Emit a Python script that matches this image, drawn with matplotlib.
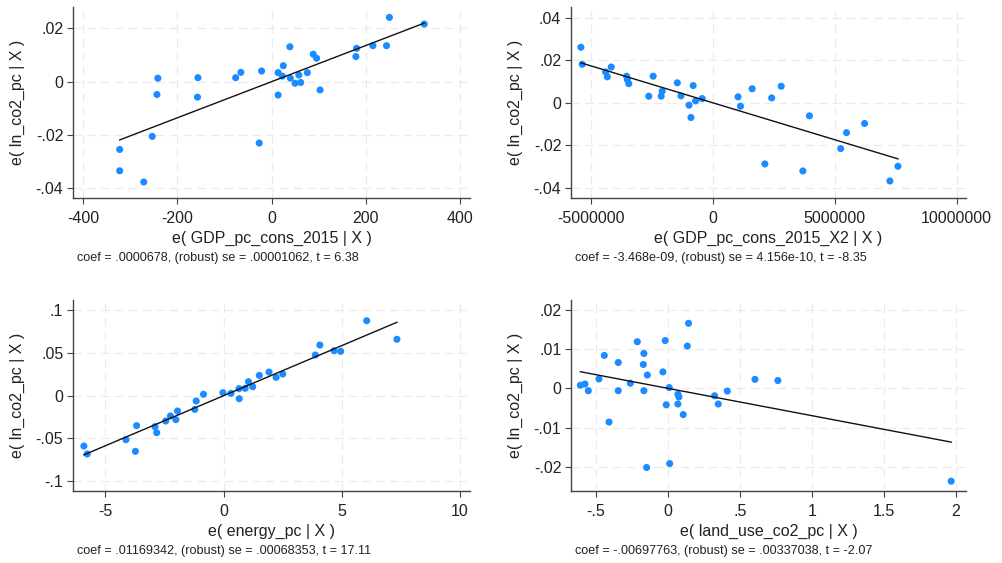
import numpy as np
import matplotlib.pyplot as plt

plt.rcParams['font.family'] = ['Liberation Sans', 'DejaVu Sans']

# panel 1: e( GDP_pc_cons_2015 | X )
gdp_x = [250, 324, 39, 244, 215, 180.5, 179, 88.5, 95.6, 25, 76, 14, 23, 58, 40, 50, 62,
         103, 14, -21, -65, -76, -156, -157, -241, -243, -253, -26, -322, -322, -271]
gdp_y = [0.0241, 0.0216, 0.0131, 0.0135, 0.0135, 0.0125, 0.0094, 0.0103, 0.0088, 0.006,
         0.0034, 0.0034, 0.0021, 0.0025, 0.0013, -0.0006, -0.0003, -0.0031, -0.005, 0.004,
         0.0035, 0.0015, 0.0015, -0.0058, 0.0013, -0.0048, -0.0205, -0.023, -0.0254,
         -0.0334, -0.0376]
gdp_coef = 0.0000678

# panel 2: e( GDP_pc_cons_2015_X2 | X )
gdp2_x = [-5.414e6, -5.36e6, -4.17e6, -4.40e6, -4.33e6, -3.54e6, -3.51e6, -3.45e6, -2.45e6,
          -2.63e6, -2.12e6, -2.08e6, -1.46e6, -1.31e6, -0.81e6, -0.98e6, -0.90e6, -0.71e6,
          -0.44e6, 1.03e6, 1.13e6, 1.61e6, 2.41e6, 2.80e6, 2.13e6, 3.96e6, 3.69e6, 5.24e6,
          5.48e6, 6.22e6, 7.26e6, 7.59e6]
gdp2_y = [0.0261, 0.0181, 0.0168, 0.0145, 0.0122, 0.0125, 0.0109, 0.009, 0.0125, 0.0031,
          0.0031, 0.0055, 0.0094, 0.0033, 0.0081, -0.0011, -0.0069, 0.0009, 0.002, 0.0028,
          -0.0016, 0.0066, 0.0023, 0.0078, -0.0287, -0.0061, -0.032, -0.0215, -0.014,
          -0.0097, -0.0367, -0.0298]
gdp2_coef = -3.468e-09

# panel 3: e( energy_pc | X )
en_x = [6.05, 7.33, 4.07, 3.88, 4.67, 4.95, 1.92, 1.51, 2.50, 2.22, 1.05, 1.23, 0.91, 0.65,
        0.66, 0.31, -0.03, -0.85, -1.16, -1.22, -1.95, -2.02, -2.25, -2.45, -2.90, -2.83,
        -3.68, -3.73, -4.13, -5.91, -5.77]
en_y = [0.0875, 0.0658, 0.0591, 0.0475, 0.0525, 0.0518, 0.0276, 0.0237, 0.0253, 0.0214,
        0.0163, 0.0105, 0.0086, 0.0082, -0.0035, 0.0027, 0.0035, 0.0016, -0.0062, -0.016,
        -0.0179, -0.028, -0.0237, -0.0296, -0.0362, -0.0432, -0.035, -0.065, -0.0514,
        -0.0588, -0.0681]
en_coef = 0.01169342

# panel 4: e( land_use_co2_pc | X )
lu_x = [0.143, 0.134, -0.019, -0.213, -0.167, -0.171, -0.143, -0.035, -0.442, -0.345,
        -0.479, -0.261, -0.608, -0.576, -0.553, -0.345, -0.167, 0.009, 0.069, 0.076, 0.069,
        -0.012, 0.106, 0.324, 0.349, 0.412, 0.604, 0.763, -0.409, -0.148, 0.012, 1.966]
lu_y = [0.0166, 0.0108, 0.0122, 0.0119, 0.0089, 0.0061, 0.0034, 0.0042, 0.0084, 0.0066,
        0.0024, 0.0013, 0.0008, 0.0011, -0.0006, -0.0006, -0.0006, 0.0002, -0.0015, -0.0022,
        -0.004, -0.0042, -0.0067, -0.0019, -0.004, -0.0007, 0.0023, 0.002, -0.0086, -0.0202,
        -0.0192, -0.0237]
lu_coef = -0.00697763

panels = [
    dict(x=gdp_x, y=gdp_y, coef=gdp_coef, xlabel='e( GDP_pc_cons_2015 | X )',
         note='coef = .0000678, (robust) se = .00001062, t = 6.38',
         xticks=[-400, -200, 0, 200, 400], xtl=['-400', '-200', '0', '200', '400'],
         yticks=[-0.04, -0.02, 0, 0.02], ytl=['-.04', '-.02', '0', '.02'],
         xlim=(-421, 421), ylim=(-0.0436, 0.028), pos=[73, 7, 470, 198]),
    dict(x=gdp2_x, y=gdp2_y, coef=gdp2_coef, xlabel='e( GDP_pc_cons_2015_X2 | X )',
         note='coef = -3.468e-09, (robust) se = 4.156e-10, t = -8.35',
         xticks=[-5e6, 0, 5e6, 1e7], xtl=['-5000000', '0', '5000000', '10000000'],
         yticks=[-0.04, -0.02, 0, 0.02, 0.04], ytl=['-.04', '-.02', '0', '.02', '.04'],
         xlim=(-5.82e6, 1.038e7), ylim=(-0.0447, 0.045), pos=[571, 7, 966, 198]),
    dict(x=en_x, y=en_y, coef=en_coef, xlabel='e( energy_pc | X )',
         note='coef = .01169342, (robust) se = .00068353, t = 17.11',
         xticks=[-5, 0, 5, 10], xtl=['-5', '0', '5', '10'],
         yticks=[-0.1, -0.05, 0, 0.05, 0.1], ytl=['-.1', '-.05', '0', '.05', '.1'],
         xlim=(-6.37, 10.42), ylim=(-0.1113, 0.1117), pos=[73, 300, 470, 491]),
    dict(x=lu_x, y=lu_y, coef=lu_coef, xlabel='e( land_use_co2_pc | X )',
         note='coef = -.00697763, (robust) se = .00337038, t = -2.07',
         xticks=[-0.5, 0, 0.5, 1, 1.5, 2], xtl=['-.5', '0', '.5', '1', '1.5', '2'],
         yticks=[-0.02, -0.01, 0, 0.01, 0.02], ytl=['-.02', '-.01', '0', '.01', '.02'],
         xlim=(-0.673, 2.069), ylim=(-0.0262, 0.02255), pos=[571, 300, 966, 491]),
]

W, H = 1002, 563
fig = plt.figure(figsize=(W / 100, H / 100), dpi=100)

for p in panels:
    l, t, r, b = p['pos']
    ax = fig.add_axes([l / W, 1 - b / H, (r - l) / W, (b - t) / H])
    x = np.array(p['x'])
    y = np.array(p['y'])
    ax.scatter(x, y, s=26, color='#1a8cff', edgecolors='none', zorder=3)
    xs = np.array([x.min(), x.max()])
    ax.plot(xs, p['coef'] * xs, color='#111111', lw=1.0, zorder=4)
    ax.set_xlim(p['xlim'])
    ax.set_ylim(p['ylim'])
    ax.set_xticks(p['xticks'])
    ax.set_xticklabels(p['xtl'])
    ax.set_yticks(p['yticks'])
    ax.set_yticklabels(p['ytl'])
    ax.grid(True, color='#ebebeb', lw=0.9, ls=(0, (7, 4)), zorder=0)
    for s in ['top', 'right']:
        ax.spines[s].set_visible(False)
    for s in ['left', 'bottom']:
        ax.spines[s].set_color('#444444')
        ax.spines[s].set_linewidth(1.0)
    ax.tick_params(direction='out', length=4, width=0.8, color='#444444',
                   labelsize=11.5, labelcolor='#222222')
    ax.tick_params(axis='x', pad=5)
    ax.tick_params(axis='y', pad=3)
    ax.set_xlabel(p['xlabel'], fontsize=11.5, color='#222222', labelpad=4)
    ax.set_ylabel('e( ln_co2_pc | X )', fontsize=11.5, color='#222222', labelpad=7.5)
    fig.text((l + 4) / W, 1 - (b + 60) / H, p['note'], fontsize=9.1, color='#222222',
             ha='left', va='center')

fig.savefig('out.png', dpi=100)
